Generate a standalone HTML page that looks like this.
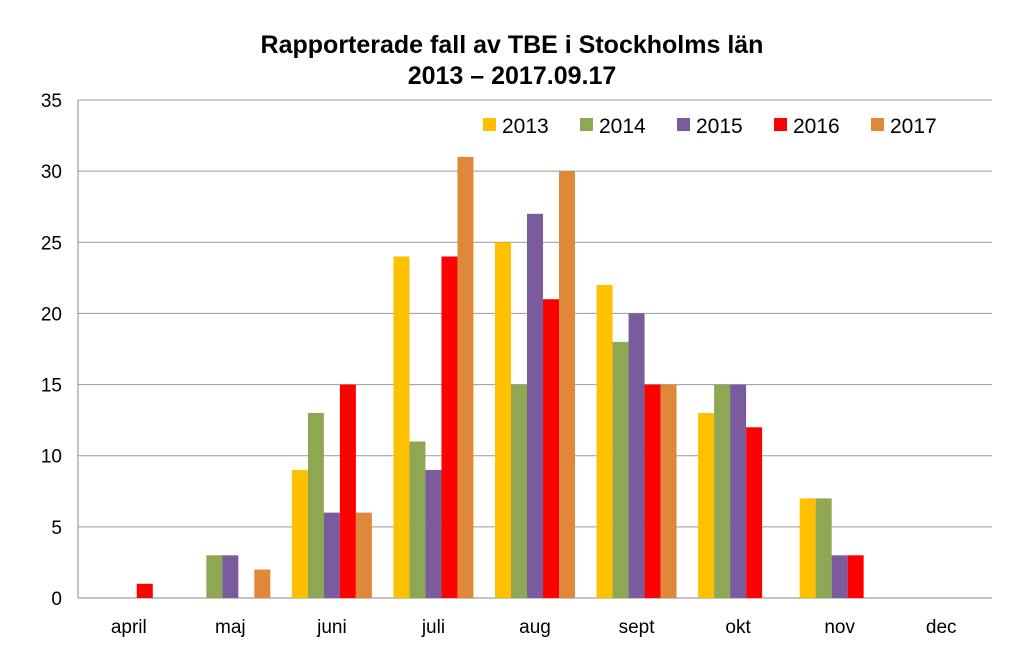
<!DOCTYPE html>
<html><head><meta charset="utf-8"><style>
body{margin:0;background:#fff;}
svg{display:block;font-family:"Liberation Sans",sans-serif;}
</style></head><body>
<svg id="chart" width="1024" height="661" viewBox="0 0 1024 661">
<text x="512" y="53" text-anchor="middle" font-size="25" font-weight="bold">Rapporterade fall av TBE i Stockholms län</text>
<text x="512" y="84" text-anchor="middle" font-size="25" font-weight="bold">2013 – 2017.09.17</text>
<g id="grid"></g><g id="bars"></g><g id="axes"></g><g id="legend"></g>
</svg>
<script>
const categories=["april","maj","juni","juli","aug","sept","okt","nov","dec"];
const seriesNames=["2013","2014","2015","2016","2017"];
const s2013=[0,0,9,24,25,22,13,7,0];
const s2014=[0,3,13,11,15,18,15,7,0];
const s2015=[0,3,6,9,27,20,15,3,0];
const s2016=[1,0,15,24,21,15,12,3,0];
const s2017=[0,2,6,31,30,15,0,0,0];
const yTicks=[0,5,10,15,20,25,30,35];
const colors=["#FFC000","#8DA753","#7A5B9B","#FF0000","#E0883A"];
const series=[s2013,s2014,s2015,s2016,s2017];
const NS="http://www.w3.org/2000/svg";
const X0=78,X1=992,Y0=598,Y1=100,YMAX=35;
const catW=(X1-X0)/categories.length,barW=16;
const y=v=>Y0-(Y0-Y1)*v/YMAX;
const xBar=(ci,si)=>X0+ci*catW+(catW-barW*5)/2+si*barW;
function mk(tag,attrs,parent){const e=document.createElementNS(NS,tag);for(const k in attrs)e.setAttribute(k,attrs[k]);document.getElementById(parent).appendChild(e);return e;}
yTicks.forEach(t=>{
  const l=mk("line",{x1:X0,x2:X1,y1:y(t),y2:y(t),stroke:t===0?"#888":"#999","stroke-width":1},"grid");
  
  
  const tx=mk("text",{x:62,y:y(t)+7,"text-anchor":"end","font-size":19},"axes");
  tx.textContent=t;
  
  
});
const ax=mk("line",{x1:X0,x2:X0,y1:Y1,y2:Y0,stroke:"#888"},"axes");


categories.forEach((c,ci)=>{
  const tx=mk("text",{x:X0+ci*catW+catW/2,y:633,"text-anchor":"middle","font-size":19},"axes");
  tx.textContent=c;
  
  
  series.forEach((s,si)=>{
    if(!s[ci])return;
    const r=mk("rect",{x:xBar(ci,si),y:y(s[ci]),width:barW,height:Y0-y(s[ci]),fill:colors[si]},"bars");
    
    
  });
});
seriesNames.forEach((n,i)=>{
  const lx=483+i*97;
  const r=mk("rect",{x:lx,y:118,width:13,height:13,fill:colors[i]},"legend");
  
  
  const t=mk("text",{x:lx+19,y:133,"font-size":21},"legend");
  t.textContent=n;
  
  
});
</script>
</body></html>
